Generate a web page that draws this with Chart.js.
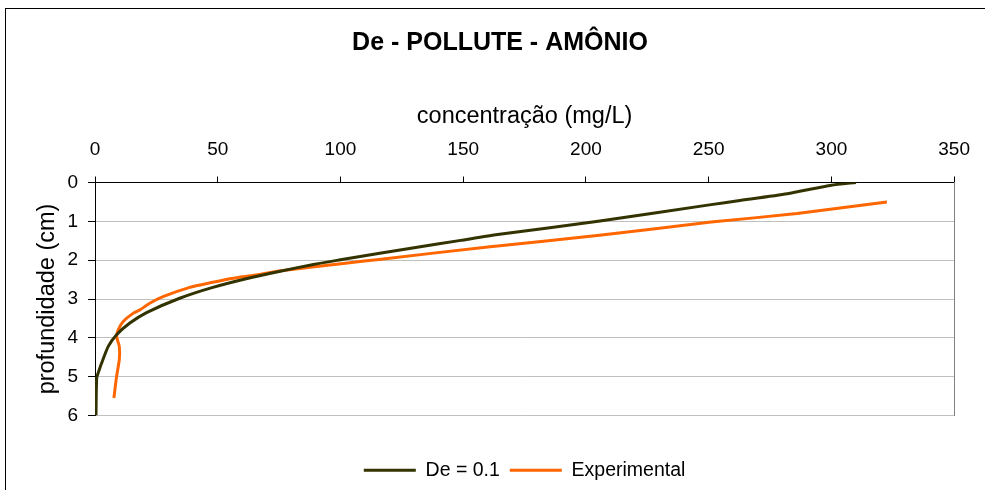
<!DOCTYPE html>
<html>
<head>
<meta charset="utf-8">
<script src="https://cdn.jsdelivr.net/npm/chart.js@4.4.0/dist/chart.umd.min.js"></script>
<style>
    html, body { margin: 0; padding: 0; background: #fff; }
    #wrap { width: 985px; height: 490px; }
</style>
</head>
<body>
<div id="wrap"><canvas id="chart" width="985" height="490"></canvas></div>
<script>
// ============================================================
// DATA
// ============================================================

const xTicks = [0, 50, 100, 150, 200, 250, 300, 350];
const yTicks = [0, 1, 2, 3, 4, 5, 6];

// De = 0.1 (model curve)
const deConc  = [310, 300, 282, 262, 251, 205, 164, 149, 130, 116, 100, 89, 75, 62, 48, 34.5, 21, 14.2, 8.8, 5.4, 2.7, 1.6, 0.7, 0.4];
const deDepth = [0, 0.07, 0.29, 0.47, 0.57, 1.0, 1.34, 1.49, 1.68, 1.82, 1.99, 2.11, 2.29, 2.47, 2.7, 2.98, 3.35, 3.62, 3.92, 4.22, 4.65, 4.85, 5.03, 6];

// Experimental
const expConc  = [322.6, 286, 251, 205.5, 160, 115.7, 102, 75, 67, 58.8, 53.4, 48, 38.6, 27.7, 22.3, 18.3, 15.5, 11.5, 9.5, 8.8, 9.9, 9.9, 8.8, 7.7];
const expDepth = [0.5, 0.8, 1.02, 1.36, 1.66, 1.98, 2.08, 2.28, 2.37, 2.44, 2.5, 2.57, 2.7, 2.94, 3.11, 3.28, 3.37, 3.58, 3.79, 3.97, 4.22, 4.56, 4.99, 5.55];

const toPoints = (xs, ys) => xs.map((x, i) => ({ x, y: ys[i] }));

// ============================================================
// OUTER FRAME
// ============================================================

const framePlugin = {
    id: "frame",
    beforeDraw(chart) {
        const ctx = chart.ctx;
        ctx.save();
        ctx.strokeStyle = "#000";
        ctx.lineWidth = 1;
        ctx.strokeRect(5.5, 8.5, 1000, 500);
        ctx.restore();
    }
};

Chart.defaults.font.family = '"Liberation Sans", Arial, sans-serif';
Chart.defaults.color = "#000";

const ctx = document.getElementById("chart").getContext("2d");

new Chart(ctx, {
    type: "scatter",
    data: {
        datasets: [
            {
                label: "De = 0.1",
                data: toPoints(deConc, deDepth),
                showLine: true,
                borderColor: "#333300",
                backgroundColor: "#333300",
                borderWidth: 3,
                pointRadius: 0,
                tension: 0.2
            },
            {
                label: "Experimental",
                data: toPoints(expConc, expDepth),
                showLine: true,
                borderColor: "#FF6600",
                backgroundColor: "#FF6600",
                borderWidth: 3,
                pointRadius: 0,
                tension: 0.2
            }
        ]
    },
    options: {
        responsive: false,
        animation: false,
        layout: { padding: { left: 15, right: 0, top: 0, bottom: 0 } },
        plugins: {
            title: {
                display: true,
                text: "De - POLLUTE - AMÔNIO",
                font: { size: 25, weight: "bold" },
                color: "#000",
                padding: { top: 28.5, bottom: 10 }
            },
            legend: {
                position: "bottom",
                fullSize: false,
                labels: {
                    usePointStyle: true,
                    pointStyle: "line",
                    pointStyleWidth: 52,
                    font: { size: 19.5 },
                    padding: 10,
                    color: "#000"
                }
            },
            tooltip: { enabled: false }
        },
        scales: {
            x: {
                type: "linear",
                position: "top",
                min: 0,
                max: 350,
                afterBuildTicks: s => { s.ticks = xTicks.map(v => ({ value: v })); },
                ticks: { font: { size: 19 }, padding: 15, color: "#000" },
                grid: { drawOnChartArea: false, drawTicks: true, tickLength: 6, tickColor: "#000" },
                border: { display: true, color: "#000", width: 1 },
                title: {
                    display: true,
                    text: "concentração (mg/L)",
                    font: { size: 23.5 },
                    color: "#000",
                    padding: { top: 33.5, bottom: 0 }
                },
                afterFit: s => { s.height = 114; }
            },
            y: {
                type: "linear",
                position: "left",
                reverse: true,
                min: 0,
                max: 6,
                afterBuildTicks: s => { s.ticks = yTicks.map(v => ({ value: v })); },
                ticks: { font: { size: 19 }, padding: 10, color: "#000" },
                grid: { color: "#c0c0c0", tickLength: 7, tickColor: "#000" },
                border: { display: true, color: "#000", width: 1 },
                title: {
                    display: true,
                    text: "profundidade (cm)",
                    font: { size: 23.5 },
                    color: "#000",
                    padding: { top: 18, bottom: 0 }
                },
                afterFit: s => { s.width = 80; }
            },
            // spacer on the right, its border is the plot's right edge
            yr: {
                type: "linear",
                axis: "y",
                position: "right",
                display: true,
                ticks: { display: false },
                grid: { display: false },
                border: { display: true, color: "#808080", width: 1 },
                afterFit: s => { s.width = 28; }
            },
            // spacer between plot and legend
            xb: {
                type: "linear",
                axis: "x",
                position: "bottom",
                display: true,
                ticks: { display: false },
                grid: { display: false },
                border: { display: false },
                afterFit: s => { s.height = 35; }
            }
        }
    },
    plugins: [framePlugin]
});
</script>
</body>
</html>
